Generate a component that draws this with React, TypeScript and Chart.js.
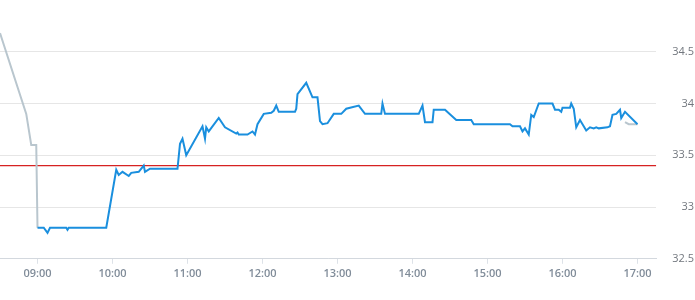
import React, { useEffect, useRef } from "react";
import { Chart, registerables } from "chart.js";

Chart.register(...registerables);

// ---- data ----
const xAxisMin = "08:30";
const xAxisMax = "17:15";
const xTickLabels = ["09:00", "10:00", "11:00", "12:00", "13:00", "14:00", "15:00", "16:00", "17:00"];

const yAxisMin = 32.5;
const yAxisMax = 35;
const yTickValues = [32.5, 33, 33.5, 34, 34.5];
const yTickLabels = ["32.5", "33", "33.5", "34", "34.5"];

const referenceLevel = 33.4;

const priceTimes = [
  "09:00", "09:05", "09:08", "09:10", "09:23", "09:24", "09:25", "09:55", "10:03", "10:05",
  "10:08", "10:13", "10:15", "10:21", "10:25", "10:26", "10:30", "10:52", "10:54", "10:56",
  "10:59", "11:12", "11:14", "11:15", "11:17", "11:25", "11:30", "11:39", "11:40", "11:41",
  "11:48", "11:52", "11:54", "11:56", "12:01", "12:07", "12:09", "12:11", "12:13", "12:26",
  "12:27", "12:28", "12:35", "12:40", "12:44", "12:46", "12:48", "12:52", "12:57", "13:03",
  "13:07", "13:17", "13:22", "13:35", "13:36", "13:38", "14:05", "14:08", "14:10", "14:16",
  "14:17", "14:26", "14:35", "14:47", "14:49", "15:18", "15:20", "15:26", "15:28", "15:30",
  "15:32", "15:33", "15:35", "15:37", "15:41", "15:52", "15:54", "15:57", "15:59", "16:00",
  "16:06", "16:07", "16:09", "16:11", "16:14", "16:19", "16:22", "16:25", "16:27", "16:29",
  "16:36", "16:38", "16:40", "16:43", "16:46", "16:47", "16:50", "17:00",
];
const priceValues = [
  32.8, 32.8, 32.75, 32.8, 32.8, 32.78, 32.8, 32.8, 33.36, 33.31,
  33.34, 33.3, 33.33, 33.34, 33.4, 33.34, 33.37, 33.37, 33.61, 33.66,
  33.5, 33.78, 33.66, 33.77, 33.73, 33.86, 33.77, 33.71, 33.72, 33.7,
  33.7, 33.73, 33.7, 33.8, 33.9, 33.91, 33.93, 33.98, 33.92, 33.92,
  33.95, 34.09, 34.2, 34.06, 34.06, 33.83, 33.8, 33.81, 33.9, 33.9,
  33.95, 33.98, 33.9, 33.9, 34.0, 33.9, 33.9, 33.98, 33.82, 33.82,
  33.94, 33.94, 33.84, 33.84, 33.8, 33.8, 33.78, 33.78, 33.73, 33.76,
  33.72, 33.7, 33.89, 33.87, 34.0, 34.0, 33.94, 33.94, 33.92, 33.96,
  33.96, 34.0, 33.95, 33.77, 33.84, 33.74, 33.77, 33.76, 33.77, 33.76,
  33.77, 33.78, 33.89, 33.9, 33.94, 33.86, 33.92, 33.8,
];

const preTimes = ["08:30", "08:51", "08:55", "08:59", "09:00"];
const preValues = [34.68, 33.9, 33.6, 33.6, 32.8];

const postTimes = ["16:50", "16:53", "17:00"];
const postValues = [33.82, 33.8, 33.8];

// ---- helpers ----
const toMin = (t: string) => {
  const [h, m] = t.split(":").map(Number);
  return h * 60 + m;
};
const toPoints = (times: string[], values: number[]) =>
  times.map((t, i) => ({ x: toMin(t), y: values[i] }));

const FONT = "'Open Sans', 'Noto Sans', sans-serif";

export default function App() {
  const ref = useRef<HTMLCanvasElement | null>(null);

  useEffect(() => {
    if (!ref.current) return;
    const xMin = toMin(xAxisMin);
    const xMax = toMin(xAxisMax);
    const chart = new Chart(ref.current, {
      type: "line",
      data: {
        datasets: [
          {
            data: toPoints(priceTimes, priceValues),
            borderColor: "#1a8fde",
            borderWidth: 2,
            pointRadius: 0,
            tension: 0,
            fill: false,
          },
          {
            data: toPoints(postTimes, postValues),
            borderColor: "#b9c6ce",
            borderWidth: 2,
            pointRadius: 0,
            tension: 0,
            fill: false,
          },
          {
            data: toPoints(preTimes, preValues),
            borderColor: "#b9c6ce",
            borderWidth: 2,
            pointRadius: 0,
            tension: 0,
            fill: false,
          },
          {
            data: [
              { x: xMin, y: referenceLevel },
              { x: xMax, y: referenceLevel },
            ],
            borderColor: "rgb(214, 34, 34)",
            backgroundColor: "rgb(214, 34, 34)",
            borderWidth: 1.2,
            pointRadius: 0,
            tension: 0,
            fill: false,
          },
        ],
      },
      options: {
        responsive: false,
        animation: false,
        events: [],
        layout: { padding: { top: 0, left: 0, right: 1, bottom: 17 } },
        plugins: { legend: { display: false }, tooltip: { enabled: false } },
        scales: {
          x: {
            type: "linear",
            min: xMin,
            max: xMax,
            afterBuildTicks: (s: any) => {
              s.ticks = xTickLabels.map((l) => ({ value: toMin(l) }));
            },
            afterFit: (s: any) => {
              s.paddingLeft = 0;
              s.paddingRight = 0;
            },
            ticks: {
              autoSkip: false,
              maxRotation: 0,
              padding: 3,
              color: "#808c99",
              font: { family: FONT, size: 11, weight: "600" as any },
              callback: (v: any) => {
                const i = xTickLabels.findIndex((l) => toMin(l) === v);
                return i >= 0 ? xTickLabels[i] : "";
              },
            },
            grid: { drawOnChartArea: false, drawTicks: true, tickLength: 5, color: "#dde2e8" },
            border: { display: true, color: "#d3d8de", width: 1 },
          },
          y: {
            type: "linear",
            position: "right",
            min: yAxisMin,
            max: yAxisMax,
            afterBuildTicks: (s: any) => {
              s.ticks = yTickValues.map((v) => ({ value: v }));
            },
            afterFit: (s: any) => {
              s.paddingTop = 0;
              s.paddingBottom = 0;
            },
            ticks: {
              crossAlign: "far",
              padding: 8,
              color: "#72777e",
              font: { family: FONT, size: 11 },
              callback: (v: any) => {
                const i = yTickValues.indexOf(Number(v));
                return i >= 0 ? yTickLabels[i] : "";
              },
            },
            grid: { color: "#e6e6e6", drawTicks: false },
            border: { display: false },
          },
        },
      },
    });
    return () => chart.destroy();
  }, []);

  return (
    <div style={{ position: "absolute", left: 0, top: 0, width: 695, height: 300, background: "#fff" }}>
      <canvas ref={ref} width={695} height={300} style={{ width: 695, height: 300, display: "block" }} />
    </div>
  );
}
